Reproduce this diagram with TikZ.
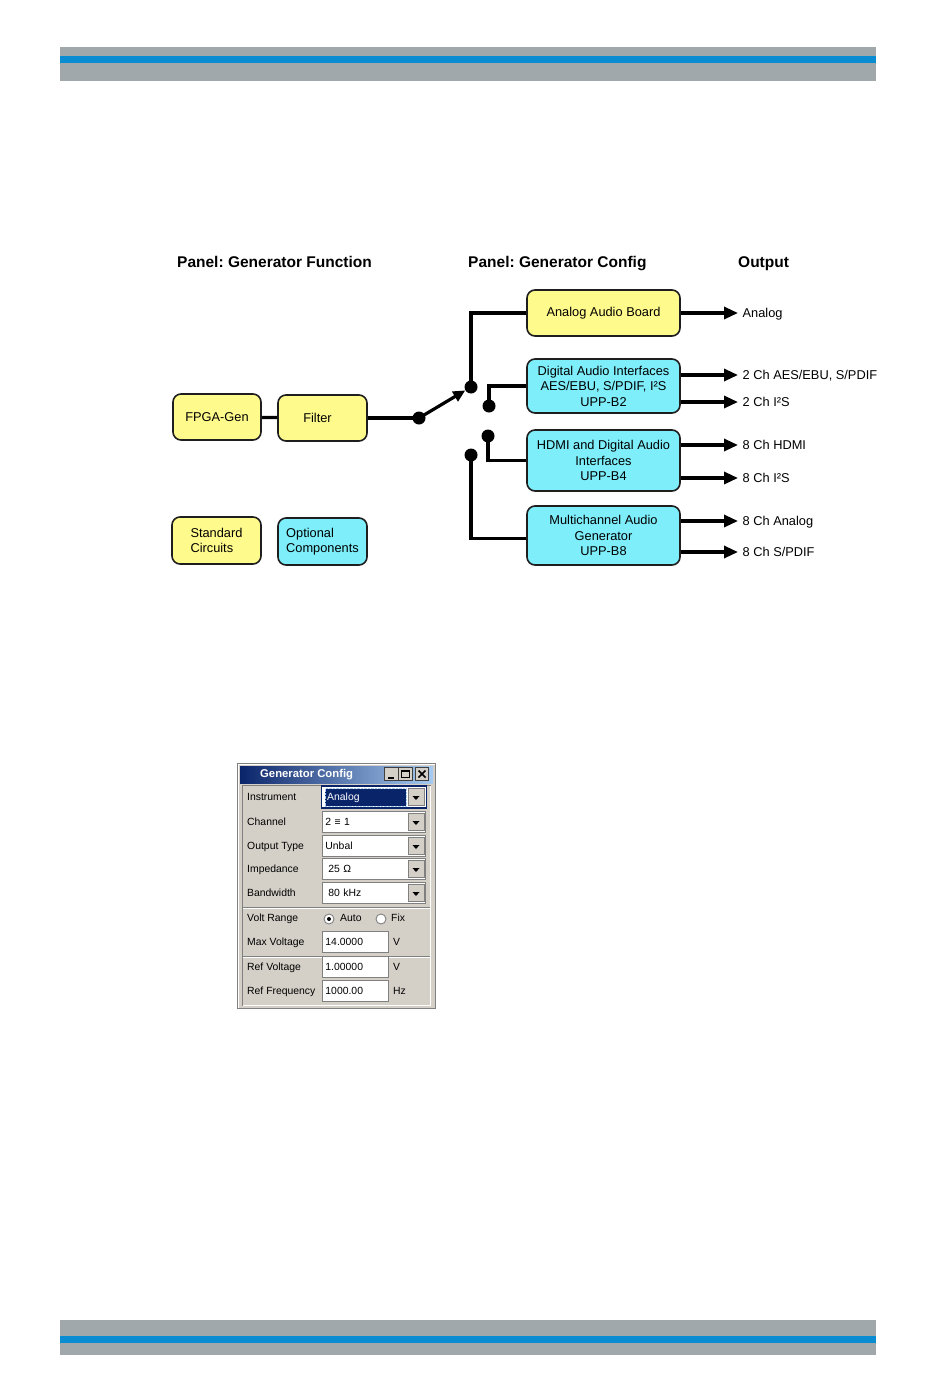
\documentclass[tikz,border=0pt]{standalone}
\usepackage{fontspec}
\setmainfont{Liberation Sans}
\setsansfont{Liberation Sans}
\usepackage{tikz}
\usetikzlibrary{arrows.meta,positioning,calc}
\frenchspacing
\definecolor{gcedge}{RGB}{30,30,30}
\definecolor{gcstd}{RGB}{255,250,140}
\definecolor{gcopt}{RGB}{125,238,250}
\definecolor{gcbar}{RGB}{160,168,172}
\definecolor{gcblue}{RGB}{10,140,210}
\definecolor{gcwin}{RGB}{212,208,200}
\definecolor{gcshade}{RGB}{128,128,128}
\definecolor{gcdark}{RGB}{64,64,64}
\definecolor{gcnavy}{RGB}{10,36,106}
\definecolor{gcsky}{RGB}{166,202,240}
\tikzset{
  blk/.style={
    draw=gcedge, line width=1.6pt, rounded corners=8pt,
    align=center, inner sep=0pt, font=\fontsize{12.8}{15.5}\selectfont
  },
  std/.style={blk, fill=gcstd},
  opt/.style={blk, fill=gcopt},
  wire/.style={draw=black, line width=3.2pt},
  arr/.style={wire, -{Triangle[length=14pt,width=12pt]}},
  pole/.style={circle, fill=black, inner sep=0pt, minimum size=13pt},
  hdr/.style={anchor=base west, inner sep=0pt, font=\fontsize{15.5}{18}\selectfont\bfseries},
  outlbl/.style={
    anchor=west, inner xsep=4.5pt, inner ysep=0pt,
    text height=9.2pt, text depth=0pt, font=\fontsize{12.8}{15}\selectfont
  },
  dlg/.style={
    anchor=west, inner sep=0pt, text height=7.5pt, text depth=0pt,
    font=\fontsize{10.4}{12}\selectfont
  },
  fld/.style={
    dlg, draw=gcshade, fill=white, line width=0.9pt, inner xsep=3pt,
    minimum height=21pt, align=left
  },
  ddbtn/.style={
    rectangle, draw=gcshade, fill=gcwin, line width=0.8pt,
    minimum width=16pt, minimum height=17pt, inner sep=0pt
  },
  wbtn/.style={
    rectangle, draw=gcdark, fill=gcwin, line width=0.8pt,
    minimum width=13.5pt, minimum height=13.5pt, inner sep=0pt
  },
  radio/.style={circle, draw=gcshade, fill=white, line width=0.9pt, minimum size=10pt, inner sep=0pt},
  ttl/.style={anchor=west, inner sep=0pt, text=white, font=\fontsize{11.3}{13}\selectfont\bfseries}
}
\begin{document}
\begin{tikzpicture}[x=1pt,y=-1pt]
  \useasboundingbox[fill=white] (0,0) rectangle (950,1378);
  % page bars
  \fill[gcbar] (60,47) rectangle (876,81);
  \fill[gcblue] (60,56) rectangle (876,63);
  \fill[gcbar] (60,1320) rectangle (876,1355);
  \fill[gcblue] (60,1336) rectangle (876,1343);

  % signal path
  \node[hdr] (hfun) at (177,267) {Panel: Generator Function};
  \node[hdr] (hcfg) at (468,267) {Panel: Generator Config};
  \node[hdr] (hout) at (738,267) {Output};

  \node[std, minimum width=88pt, minimum height=46pt] (fpga) at (217,417) {FPGA-Gen};
  \node[std, minimum width=89pt, minimum height=46pt] (filt) at (322.5,418) {\hspace{-10pt}Filter};
  \node[std, minimum width=153pt, minimum height=46pt] (ana) at (603.5,313) {Analog Audio Board};
  \node[opt, minimum width=153pt, minimum height=54pt] (dai) at (603.5,386)
    {Digital Audio Interfaces\\AES/EBU, S/PDIF, I²S\\UPP-B2};
  \node[opt, minimum width=153pt, minimum height=61pt] (hdmi) at (603.5,460.5)
    {HDMI and Digital Audio\\Interfaces\\UPP-B4};
  \node[opt, minimum width=153pt, minimum height=59pt] (mch) at (603.5,535.5)
    {Multichannel Audio\\Generator\\UPP-B8};
  \node[std, align=left, minimum width=89pt, minimum height=47pt] (stdc) at (216.5,540.5) {Standard\\Circuits};
  \node[opt, align=left, minimum width=89pt, minimum height=47pt] (optc) at (322.5,541.5) {Optional\\Components};

  \node[pole] (p0) at (419,418) {};
  \node[pole] (p1) at (471,387) {};
  \node[pole] (p2) at (489,406) {};
  \node[pole] (p3) at (488,436) {};
  \node[pole] (p4) at (471,455) {};

  \draw[wire] (fpga) -- (filt);
  \draw[wire] (filt) -- (p0.center);
  \draw[wire, -{Triangle[length=12pt,width=11pt]}] (p0.center) -- (p1);
  \draw[wire] (p1.center) |- (ana);
  \draw[wire] (p2.center) |- (dai);
  \draw[wire] (p3.center) |- (hdmi);
  \draw[wire] (p4.center) |- ([yshift=-3pt]mch.west);

  \node[outlbl] (oana) at (738,313) {Analog};
  \node[outlbl] (oaes) at (738,375) {2 Ch AES/EBU, S/PDIF};
  \node[outlbl] (oi2s) at (738,402) {2 Ch I²S};
  \node[outlbl] (ohdmi) at (738,445) {8 Ch HDMI};
  \node[outlbl] (oi2s8) at (738,478) {8 Ch I²S};
  \node[outlbl] (oanl8) at (738,521) {8 Ch Analog};
  \node[outlbl] (ospd8) at (738,552) {8 Ch S/PDIF};
  \draw[arr] (ana.east |- oana) -- (oana);
  \draw[arr] (dai.east |- oaes) -- (oaes);
  \draw[arr] (dai.east |- oi2s) -- (oi2s);
  \draw[arr] (hdmi.east |- ohdmi) -- (ohdmi);
  \draw[arr] (hdmi.east |- oi2s8) -- (oi2s8);
  \draw[arr] (mch.east |- oanl8) -- (oanl8);
  \draw[arr] (mch.east |- ospd8) -- (ospd8);

  % dialog window
  \draw[gcshade, fill=gcwin] (237.5,763.5) rectangle (435.5,1008.5);
  \draw[white] (238.5,1007.5) -- (238.5,764.5) -- (434.5,764.5);
  \shade[left color=gcnavy, right color=gcsky] (240,766) rectangle (433,783);
  \node[ttl] (ttl) at (260,774.5) {Generator Config};
  \node[wbtn] (bmin) at (391.5,774) {};
  \node[wbtn] (bmax) at (405.5,774) {};
  \node[wbtn] (bcls) at (422,774) {};
  \draw[line width=2pt] ($(bmin.center)+(-3.5,3.5)$) -- ($(bmin.center)+(2.5,3.5)$);
  \draw[line width=1pt] ($(bmax.center)+(-4,-3.5)$) rectangle ($(bmax.center)+(4,3.5)$);
  \draw[line width=2pt] ($(bmax.center)+(-4,-3)$) -- ($(bmax.center)+(4,-3)$);
  \draw[line width=1.6pt] ($(bcls.center)+(-3.5,-3.5)$) -- ($(bcls.center)+(3.5,3.5)$)
    ($(bcls.center)+(-3.5,3.5)$) -- ($(bcls.center)+(3.5,-3.5)$);
  \draw[gcshade] (242.5,1005.5) -- (242.5,785.5) -- (430.5,785.5);
  \draw[white] (242.5,1005.5) -- (430.5,1005.5) -- (430.5,785.5);
  \draw[gcshade] (243,907) -- (430,907);
  \draw[white] (243,908) -- (430,908);
  \draw[gcshade] (243,956) -- (430,956);
  \draw[white] (243,957) -- (430,957);

  \node[dlg] (lins) at (247,797) {Instrument};
  \node[dlg] (lchan) at (247,822) {Channel};
  \node[dlg] (lout) at (247,846) {Output Type};
  \node[dlg] (limp) at (247,869) {Impedance};
  \node[dlg] (lbw) at (247,893) {Bandwidth};
  \node[dlg] (lvr) at (247,918) {Volt Range};
  \node[dlg] (lmax) at (247,942) {Max Voltage};
  \node[dlg] (lref) at (247,967) {Ref Voltage};
  \node[dlg] (lfrq) at (247,991) {Ref Frequency};

  \node[fld, draw=gcnavy, line width=1.2pt, minimum height=22pt, text width=99pt] (fins) at (321,797) {};
  \node[dlg, fill=gcnavy, text=white, minimum height=17pt, inner xsep=2pt, text width=77pt, align=left] (vins) at (325,797) {Analog};
  \draw[gcsky, densely dotted] (vins.south west) rectangle (vins.north east);
  \node[fld, text width=97pt] (fchan) at (322,822) {2 ≡ 1};
  \node[fld, text width=97pt] (fout) at (322,846) {Unbal};
  \node[fld, text width=97pt] (fimp) at (322,869) {\hspace{3pt}25 Ω};
  \node[fld, text width=97pt] (fbw) at (322,893) {\hspace{3pt}80 kHz};
  \node[ddbtn] (dins) at (416,797) {};
  \node[ddbtn] (dchan) at (416,822) {};
  \node[ddbtn] (dout) at (416,846) {};
  \node[ddbtn] (dimp) at (416,869) {};
  \node[ddbtn] (dbw) at (416,893) {};
  \foreach \b in {dins,dchan,dout,dimp,dbw}
    \fill ($(\b.center)+(-3.5,-1)$) -- ++(7,0) -- ++(-3.5,4) -- cycle;

  \node[radio] (rauto) at (329,919) {};
  \fill (rauto.center) circle (2pt);
  \node[dlg] (tauto) at (340,918) {Auto};
  \node[radio] (rfix) at (381,919) {};
  \node[dlg] (tfix) at (391,918) {Fix};

  \node[fld, text width=60pt] (fmax) at (322,942) {14.0000};
  \node[fld, text width=60pt] (fref) at (322,967) {1.00000};
  \node[fld, text width=60pt] (ffrq) at (322,991) {1000.00};
  \node[dlg] (umax) at (393,942) {V};
  \node[dlg] (uref) at (393,967) {V};
  \node[dlg] (ufrq) at (393,991) {Hz};
\end{tikzpicture}
\end{document}
